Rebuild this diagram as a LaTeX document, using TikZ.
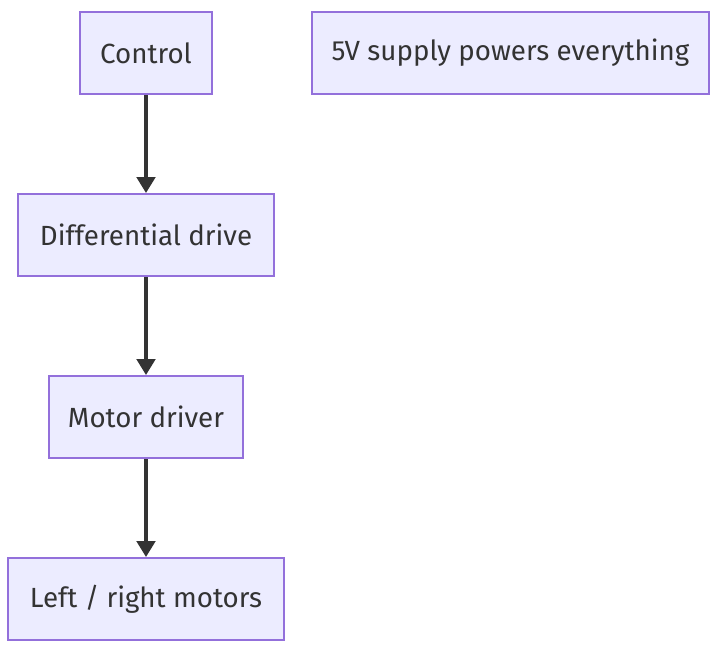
\documentclass[tikz,border=0pt]{standalone}
\usepackage{fontspec}
\setmainfont{Fira Sans}
\usetikzlibrary{arrows.meta}
\definecolor{nodefill}{HTML}{ECECFF}
\definecolor{nodeborder}{HTML}{9370DB}
\definecolor{edgecol}{HTML}{333333}
\definecolor{textcol}{HTML}{333333}
\begin{document}
\begin{tikzpicture}[x=0.75pt,y=-0.75pt,
  box/.style={draw=nodeborder,fill=nodefill,line width=1.5pt,inner sep=0pt,
    minimum height=82*0.75pt,text=textcol,font=\fontsize{20.8}{24}\selectfont},
  conn/.style={draw=edgecol,line width=2.3pt,-{Triangle[length=12pt,width=14pt]}}]
\useasboundingbox (0,0) rectangle (718,644);
\node[box,minimum width=132*0.75pt] (ctrl) at (146,53) {Control};
\node[box,minimum width=397*0.75pt] (supply) at (510.5,53) {5V supply powers everything};
\node[box,minimum width=256*0.75pt] (diff) at (146,235) {Differential drive};
\node[box,minimum width=194*0.75pt] (motdrv) at (146,417) {Motor driver};
\node[box,minimum width=276*0.75pt] (motors) at (146,599) {Left / right motors};
\draw[conn] (ctrl) -- (diff);
\draw[conn] (diff) -- (motdrv);
\draw[conn] (motdrv) -- (motors);
\end{tikzpicture}
\end{document}
